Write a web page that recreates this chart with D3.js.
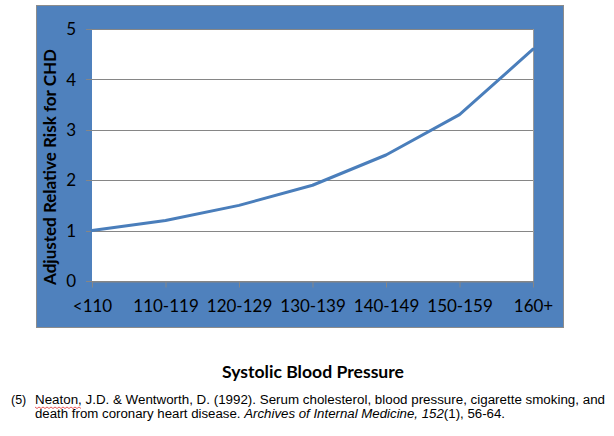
<!DOCTYPE html>
<html><head><meta charset="utf-8">
<script src="https://cdn.jsdelivr.net/npm/d3@7"></script>
<style>body{margin:0;background:#fff}svg{display:block}</style>
</head><body>
<svg id="c" width="614" height="436"></svg>
<script>
const categories = ["<110","110-119","120-129","130-139","140-149","150-159","160+"];
const riskValues = [1.0, 1.2, 1.5, 1.9, 2.5, 3.3, 4.6];
const yTicks = [0,1,2,3,4,5];
const yTitle = "Adjusted Relative Risk for CHD";
const xTitle = "Systolic Blood Pressure";
const citeNum = "(5)";
const citeLine1 = "Neaton, J.D. & Wentworth,  D. (1992).  Serum  cholesterol, blood pressure, cigarette smoking, and";
const citeLine2a = "death  from coronary heart  disease.  ";
const citeLine2b = "Archives of Internal  Medicine,  152";
const citeLine2c = "(1),  56-64.";

const svg = d3.select("#c");
const m = {l:92, r:533, t:29, b:281};

svg.append("rect").attr("x",36.5).attr("y",5.5).attr("width",527).attr("height",322)
  .attr("fill","#4F81BD").attr("stroke","#8c8c8c").attr("stroke-width",1);
svg.append("rect").attr("x",m.l).attr("y",m.t).attr("width",m.r-m.l).attr("height",m.b-m.t).attr("fill","#fff");

const x = d3.scalePoint().domain(categories).range([m.l, m.r]);
const y = d3.scaleLinear().domain([0,5]).range([m.b, m.t]);

// gridlines
svg.append("g").selectAll("line").data(yTicks).join("line")
  .attr("x1",m.l-6).attr("x2",m.r).attr("y1",d=>Math.round(y(d))+0.5).attr("y2",d=>Math.round(y(d))+0.5)
  .attr("stroke","#868686").attr("stroke-width",1);
// right border
svg.append("line").attr("x1",m.r+0.5).attr("x2",m.r+0.5).attr("y1",m.t).attr("y2",m.b).attr("stroke","#9a9a9a");

// x axis
const xa = svg.append("g").attr("transform",`translate(0,${Math.round(y(0))+0.5})`)
  .call(d3.axisBottom(x).tickSize(6).tickPadding(12).tickSizeOuter(0));
xa.select(".domain").attr("stroke","#868686");
xa.selectAll(".tick line").attr("stroke","#868686");
xa.selectAll("text").attr("font-family","Lato, 'Open Sans', sans-serif").attr("font-size",17).attr("fill","#000");

// y tick labels
svg.append("g").selectAll("text").data(yTicks).join("text")
  .attr("x",76).attr("y",d=>y(d)).attr("dy","0.36em").attr("text-anchor","end")
  .attr("font-family","Lato, 'Open Sans', sans-serif").attr("font-size",17).attr("fill","#000")
  .text(d=>d);

// line
const line = d3.line().x((d,i)=>x(categories[i])).y(d=>y(d)).curve(d3.curveLinear);
svg.append("path").datum(riskValues).attr("d",line).attr("fill","none")
  .attr("stroke","#4A7EBB").attr("stroke-width",3).attr("stroke-linejoin","round").attr("stroke-linecap","round");

// y title
svg.append("text").attr("transform","translate(56,167) rotate(-90)").attr("text-anchor","middle")
  .attr("font-family","Lato, 'Open Sans', sans-serif").attr("font-weight","bold").attr("font-size",17)
  .attr("textLength",236).attr("lengthAdjust","spacingAndGlyphs")
  .attr("fill","#000").text(yTitle);

// x title
svg.append("text").attr("x",313).attr("y",378).attr("text-anchor","middle")
  .attr("font-family","Lato, 'Open Sans', sans-serif").attr("font-weight","bold").attr("font-size",17)
  .attr("textLength",182).attr("lengthAdjust","spacingAndGlyphs")
  .attr("fill","#000").text(xTitle);

// citation
const cf = "'Liberation Sans', Arial, sans-serif";
svg.append("text").attr("x",11).attr("y",404).attr("font-family",cf).attr("font-size",12.5).text(citeNum);
svg.append("text").attr("x",35).attr("y",404).attr("font-family",cf).attr("font-size",12.5)
  .attr("textLength",570).attr("lengthAdjust","spacingAndGlyphs").text(citeLine1);
const t2 = svg.append("text").attr("x",35).attr("y",418).attr("font-family",cf).attr("font-size",12.5)
  .attr("textLength",470).attr("lengthAdjust","spacingAndGlyphs");
t2.append("tspan").text(citeLine2a);
t2.append("tspan").attr("font-style","italic").text(citeLine2b);
t2.append("tspan").text(citeLine2c);

// spellcheck wavy underline under "Neaton"
let wp = "M35,407";
for (let xx=35, k=0; xx<81; xx+=2, k++) wp += `L${xx+2},${k%2===0?408.5:407}`;
svg.append("path").attr("d",wp).attr("fill","none").attr("stroke","#e03030").attr("stroke-width",0.8);
</script>
</body></html>
